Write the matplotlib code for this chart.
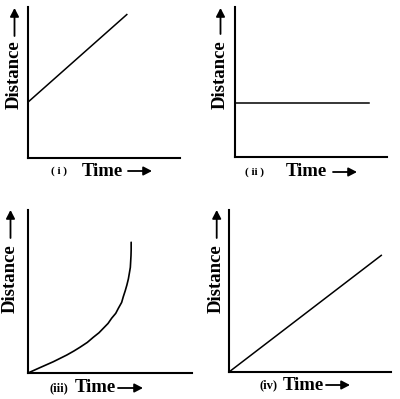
import matplotlib
matplotlib.use("Agg")
import matplotlib.pyplot as plt

# ---- data (axes run 0..10 in both directions) ----
time_i = [0.0, 6.5]
dist_i = [3.7, 9.5]

time_ii = [0.0, 8.8]
dist_ii = [3.6, 3.6]

time_iii = [0.0, 0.73, 1.54, 2.36, 2.80, 3.17, 3.62, 3.98, 4.33, 4.59, 4.88, 5.10, 5.35,
            5.51, 5.71, 5.81, 5.93, 6.03, 6.12, 6.18, 6.24, 6.26, 6.28, 6.29, 6.29]
dist_iii = [0.0, 0.33, 0.69, 1.10, 1.35, 1.58, 1.88, 2.19, 2.47, 2.74, 3.04, 3.36, 3.66,
            3.97, 4.33, 4.68, 5.05, 5.40, 5.77, 6.12, 6.48, 6.83, 7.20, 7.55, 8.02]

time_iv = [0.0, 9.4]
dist_iv = [0.0, 7.2]

panel_labels = ["( i )", "( ii )", "(iii)", "(iv)"]
x_label = "Time"
y_label = "Distance"

W, H = 400, 399
fig = plt.figure(figsize=(W / 100, H / 100), dpi=100)
fig.patch.set_facecolor("white")

SERIF = ["Liberation Serif", "DejaVu Serif"]


def fx(x):
    return x / W


def fy(y):
    return 1 - y / H


def make_axes(left, top, right, bottom):
    ax = fig.add_axes([fx(left), fy(bottom), (right - left) / W, (bottom - top) / H])
    ax.set_xlim(0, 10)
    ax.set_ylim(0, 10)
    for s in ["top", "right"]:
        ax.spines[s].set_visible(False)
    for s in ["left", "bottom"]:
        ax.spines[s].set_linewidth(1.5)
        ax.spines[s].set_color("black")
    ax.set_xticks([])
    ax.set_yticks([])
    ax.patch.set_alpha(0)
    return ax


def arrow(x0, y0, x1, y1):
    fig.add_artist(matplotlib.patches.FancyArrowPatch(
        (fx(x0), fy(y0)), (fx(x1), fy(y1)), transform=fig.transFigure,
        arrowstyle="-|>,head_length=5,head_width=2.6", mutation_scale=1,
        lw=1.3, color="black", shrinkA=0, shrinkB=0))


def labels(tag, tag_x, tag_y, tag_size, time_x, arr0, arr1, dist_x, dist_y, darr0, darr1):
    fig.text(fx(tag_x), fy(tag_y), tag, ha="center", va="center",
             fontsize=tag_size, fontweight="bold", family=SERIF)
    fig.text(fx(time_x), fy(tag_y), x_label, ha="left", va="center",
             fontsize=13.5, fontweight="bold", family=SERIF)
    arrow(arr0, tag_y, arr1, tag_y)
    fig.text(fx(dist_x), fy(dist_y), y_label, ha="center", va="center", rotation=90,
             fontsize=13.5, fontweight="bold", family=SERIF)
    arrow(dist_x, darr0, dist_x, darr1)


# (i)
ax1 = make_axes(28, 7, 180, 158)
ax1.plot(time_i, dist_i, color="black", lw=1.1)
labels(panel_labels[0], 59, 171, 8, 82, 128, 152, 14.5, 75, 36, 8)

# (ii)
ax2 = make_axes(235, 7, 387, 157)
ax2.plot(time_ii, dist_ii, color="black", lw=1.1)
labels(panel_labels[1], 255, 172, 8, 286, 333, 357, 220.5, 75, 34, 8)

# (iii)
ax3 = make_axes(28, 210, 192, 373)
ax3.plot(time_iii, dist_iii, color="black", lw=1.2, solid_capstyle="round",
         solid_joinstyle="round")
labels(panel_labels[2], 59, 388, 9, 75, 118, 143, 10.5, 279, 238, 210)

# (iv)
ax4 = make_axes(229, 210, 391, 372)
ax4.plot(time_iv, dist_iv, color="black", lw=1.1)
labels(panel_labels[3], 269, 385, 9, 283, 326, 350, 216.7, 279, 238, 210)

fig.savefig("out.png", dpi=100, facecolor="white")
